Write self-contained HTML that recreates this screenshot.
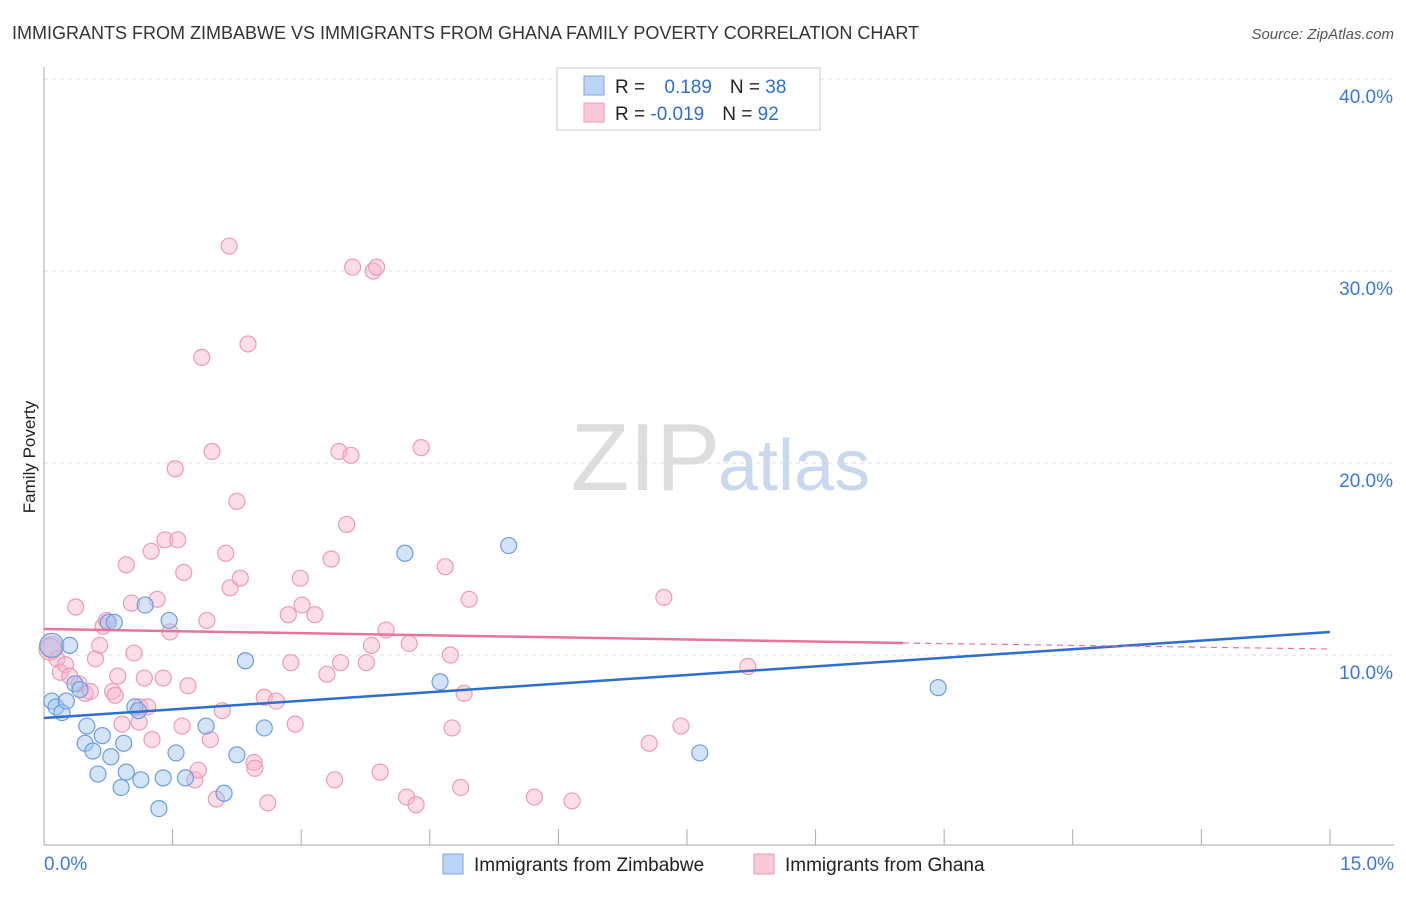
<!DOCTYPE html>
<html><head><meta charset="utf-8">
<style>
body{margin:0;background:#fff;font-family:"Liberation Sans",sans-serif;}
svg text{font-family:"Liberation Sans",sans-serif;}
</style></head>
<body>
<svg id="chart" width="1406" height="892" xmlns="http://www.w3.org/2000/svg">
<text x="12" y="39" font-size="18" fill="#333">IMMIGRANTS FROM ZIMBABWE VS IMMIGRANTS FROM GHANA FAMILY POVERTY CORRELATION CHART</text>
<text x="1394" y="39" font-size="15" fill="#555" font-style="italic" text-anchor="end">Source: ZipAtlas.com</text>
<text x="35" y="457" font-size="17" fill="#222" text-anchor="middle" transform="rotate(-90 35 457)">Family Poverty</text>
<text x="720" y="490" font-size="96" fill="#ddd" text-anchor="end" font-family="Liberation Serif">ZIP</text>
<text x="718" y="490" font-size="72" fill="#c8d8ee">atlas</text>
<g id="grid"></g><g id="axes"></g><g id="pink"></g><g id="blue"></g><g id="lines"></g>
<g>
<rect x="557" y="68" width="263" height="62" fill="#fff" stroke="#ccc"/>
<rect x="584" y="76" width="20" height="19" fill="#bcd4f5" stroke="#7aa6e6"/>
<rect x="584" y="103" width="20" height="19" fill="#fbc8d8" stroke="#ef9ab6"/>
<text x="615" y="93" font-size="19" fill="#222">R = <tspan fill="#2d6fd0" dx="14">0.189</tspan><tspan dx="18" fill="#222">N = </tspan><tspan fill="#2d6fd0">38</tspan></text>
<text x="615" y="120" font-size="19" fill="#222">R = <tspan fill="#2d6fd0">-0.019</tspan><tspan dx="18" fill="#222">N = </tspan><tspan fill="#2d6fd0">92</tspan></text>
</g>
<g>
<rect x="443" y="854" width="20" height="20" fill="#bcd4f5" stroke="#7aa6e6"/>
<text x="474" y="871" font-size="19" fill="#222">Immigrants from Zimbabwe</text>
<rect x="754" y="854" width="20" height="20" fill="#fbc8d8" stroke="#ef9ab6"/>
<text x="785" y="871" font-size="19" fill="#222">Immigrants from Ghana</text>
</g>
</svg>
<script>
const yTicks=[10,20,30,40];
const yTickLabels=["10.0%","20.0%","30.0%","40.0%"];
const xTickCount=10;
const xLabels=["0.0%","15.0%"];
const blueX=[0.09,0.3,0.09,0.14,0.21,0.26,0.36,0.42,0.75,0.82,1.18,1.46,0.5,0.48,0.57,0.68,0.78,0.93,0.63,0.96,0.9,1.13,1.34,1.39,1.54,1.65,1.89,2.1,2.25,2.57,2.35,1.06,1.1,4.21,5.42,4.62,7.65,10.43];
const blueY=[10.5,10.5,7.6,7.3,7.0,7.6,8.5,8.2,11.7,11.7,12.6,11.8,6.3,5.4,5.0,5.8,4.7,5.4,3.8,3.9,3.1,3.5,2.0,3.6,4.9,3.6,6.3,2.8,4.8,6.2,9.7,7.3,7.1,15.3,15.7,8.6,4.9,8.3];
const pinkX=[0.09,0.07,0.15,0.19,0.25,0.3,0.37,0.41,0.48,0.54,0.6,0.65,0.69,0.73,0.8,0.86,0.83,0.91,0.96,1.02,1.05,1.11,1.12,1.17,1.21,1.26,1.32,1.25,1.39,1.41,1.47,1.53,1.56,1.61,1.63,1.68,1.76,1.8,1.84,1.9,1.94,1.96,2.01,2.08,2.12,2.17,2.16,2.25,2.29,2.38,2.45,2.46,2.57,2.61,2.71,2.85,2.88,2.93,2.99,3.01,3.16,3.3,3.35,3.39,3.46,3.53,3.44,3.58,3.6,3.76,3.82,3.84,3.88,3.92,3.99,4.23,4.26,4.34,4.4,4.68,4.74,4.76,4.86,4.9,4.96,5.72,6.16,7.06,7.23,7.43,8.21];
const pinkY=[10.4,10.3,9.8,9.1,9.5,8.9,12.5,8.5,8.0,8.1,9.8,10.5,11.5,11.8,8.1,8.9,7.9,6.4,14.7,12.7,10.1,6.5,7.3,8.8,7.3,5.6,12.9,15.4,8.8,16.0,11.2,19.7,16.0,6.3,14.3,8.4,3.5,4.0,25.5,11.8,5.6,20.6,2.5,7.1,15.3,13.5,31.3,18.0,14.0,26.2,4.4,4.1,7.8,2.3,7.6,12.1,9.6,6.4,14.0,12.6,12.1,9.0,15.0,3.5,9.6,16.8,20.6,20.4,30.2,9.6,10.5,30.0,30.2,3.9,11.3,2.6,10.6,2.2,20.8,14.6,10.0,6.2,3.1,8.0,12.9,2.6,2.4,5.4,13.0,6.3,9.4];
const X=v=>44+v*85.73, Y=v=>847-v*19.2;
const NS="http://www.w3.org/2000/svg";
function mk(tag,attrs,parent){const e=document.createElementNS(NS,tag);for(const k in attrs)e.setAttribute(k,attrs[k]);document.getElementById(parent).appendChild(e);return e;}
yTicks.forEach((t,i)=>{
 const l=mk('line',{x1:44,x2:1394,y1:Y(t),y2:Y(t),stroke:'#ddd','stroke-dasharray':'4,4'},'grid');
 
 
 const tx=mk('text',{x:1393,y:Y(t)+24,'font-size':19,fill:'#3d78d8','text-anchor':'end'},'grid');
 tx.textContent=yTickLabels[i];
 
 
});
const gtop=mk('line',{x1:44,x2:1394,y1:79,y2:79,stroke:'#ddd','stroke-dasharray':'4,4'},'grid');
mk('line',{x1:44,x2:44,y1:67,y2:845,stroke:'#aaa'},'axes');
mk('line',{x1:44,x2:1394,y1:845,y2:845,stroke:'#aaa'},'axes');
for(let i=1;i<=xTickCount;i++){const xv=X(i*1.5);const t=mk('line',{x1:xv,x2:xv,y1:829,y2:845,stroke:'#aaa'},'axes');
 
 }
const xl0=mk('text',{x:44,y:870,'font-size':19,fill:'#3d78d8'},'axes');xl0.textContent=xLabels[0];


const xl1=mk('text',{x:1394,y:870,'font-size':19,fill:'#3d78d8','text-anchor':'end'},'axes');xl1.textContent=xLabels[1];


pinkX.forEach((v,i)=>{const c=mk('circle',{cx:X(v),cy:Y(pinkY[i]),r:i<2?11:8,fill:'rgba(248,180,204,0.45)',stroke:'#ee9ab6','stroke-width':1.2},'pink');
 
 });
blueX.forEach((v,i)=>{const c=mk('circle',{cx:X(v),cy:Y(blueY[i]),r:i==0?12:8,fill:'rgba(160,195,240,0.45)',stroke:'#6d9de0','stroke-width':1.2},'blue');
 
 });
const bl=mk('line',{x1:X(0),y1:718,x2:X(15),y2:632,stroke:'#2d6fd0','stroke-width':2.5},'lines');


const pl=mk('line',{x1:X(0),y1:629,x2:903,y2:643,stroke:'#e8749c','stroke-width':2.5},'lines');


const pd=mk('line',{x1:903,y1:643,x2:X(15),y2:649,stroke:'#e8749c','stroke-width':1.2,'stroke-dasharray':'6,5'},'lines');


</script>
</body></html>
